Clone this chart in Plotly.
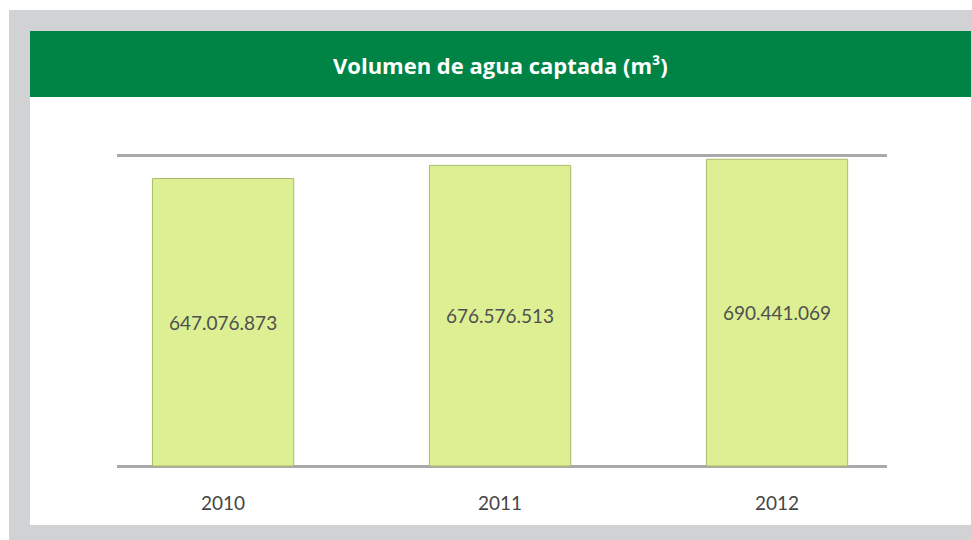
import plotly.graph_objects as go

# Water captured per year (m³)
years = ["2010", "2011", "2012"]
volumes = [647076873, 676576513, 690441069]
value_labels = ["647.076.873", "676.576.513", "690.441.069"]

W, H = 972, 540
# plot area in pixels
L, R, T, B = 117, 887, 140, 472
pw, ph = R - L, B - T


def px_x(x):
    return (x - L) / pw


def px_y(y):
    return (B - y) / ph


fig = go.Figure()
fig.add_trace(go.Bar(
    x=years,
    y=volumes,
    text=value_labels,
    textposition="inside",
    insidetextanchor="middle",
    textangle=0,
    textfont=dict(family="Lato", size=19, color="#505050"),
    marker=dict(color="#dcef92", line=dict(color="#a9bb6a", width=1)),
    width=0.51,
    hoverinfo="skip",
))

# frame, white panel and green header band
shapes = [
    dict(type="rect", xref="paper", yref="paper", layer="below",
         x0=px_x(9), x1=px_x(972), y0=px_y(540), y1=px_y(10),
         fillcolor="#d1d2d4", line=dict(width=0)),
    dict(type="rect", xref="paper", yref="paper", layer="below",
         x0=px_x(30), x1=px_x(971), y0=px_y(525), y1=px_y(31),
         fillcolor="#ffffff", line=dict(width=0)),
    dict(type="rect", xref="paper", yref="paper", layer="below",
         x0=px_x(30), x1=px_x(971), y0=px_y(97), y1=px_y(31),
         fillcolor="#008446", line=dict(width=0)),
]

zero_px, top_px = 466, 155
per_px = 700e6 / (zero_px - top_px)
y_min = -(B - zero_px) * per_px
y_max = 700e6 + (top_px - T) * per_px

fig.update_layout(
    width=W, height=H,
    margin=dict(l=L, r=W - R, t=T, b=H - B),
    paper_bgcolor="#ffffff",
    plot_bgcolor="rgba(0,0,0,0)",
    showlegend=False,
    shapes=shapes,
    annotations=[dict(
        text="<b>Volumen de agua captada (m³)</b>",
        xref="paper", yref="paper", x=px_x(500), y=px_y(65),
        xanchor="center", yanchor="middle", showarrow=False,
        font=dict(family="Open Sans", size=22, color="#ffffff"),
    )],
    xaxis=dict(
        range=[-0.383, 2.397],
        showgrid=False, zeroline=False, showline=False,
        ticks="outside", ticklen=14, tickcolor="rgba(0,0,0,0)",
        tickfont=dict(family="Lato", size=19, color="#454545"),
    ),
    yaxis=dict(
        range=[y_min, y_max],
        tickvals=[0, 700e6],
        showticklabels=False,
        showgrid=True, gridcolor="#a9a9a9", gridwidth=3,
        zeroline=False, showline=False,
    ),
)

fig.write_html("out.html")
